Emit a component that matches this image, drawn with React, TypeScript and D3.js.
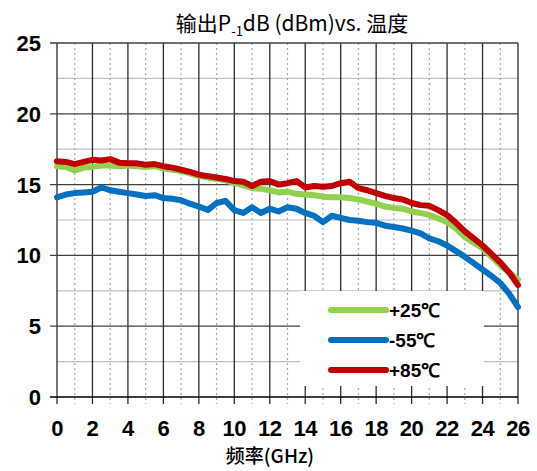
import React from 'react';
import * as d3 from 'd3';

// 频率 (GHz), 0.5 GHz 步进
const freqs: number[] = d3.range(0, 26.01, 0.5);

const p25: number[] = [
  16.3, 16.25, 16.0, 16.2, 16.25, 16.35, 16.35, 16.3, 16.35, 16.3,
  16.25, 16.3, 16.15, 16.05, 15.95, 15.8, 15.6, 15.5, 15.4, 15.3,
  15.1, 14.95, 14.75, 14.7, 14.6, 14.45, 14.5, 14.35, 14.3, 14.25,
  14.15, 14.1, 14.1, 14.05, 13.95, 13.8, 13.65, 13.45, 13.35, 13.3,
  13.1, 13.0, 12.85, 12.6, 12.35, 11.9, 11.3, 10.9, 10.5, 9.9,
  9.3, 8.8, 8.3,
];

const m55: number[] = [
  14.1, 14.3, 14.4, 14.45, 14.5, 14.8, 14.6, 14.5, 14.4, 14.3,
  14.2, 14.25, 14.05, 14.0, 13.9, 13.65, 13.45, 13.2, 13.7, 13.85,
  13.2, 13.0, 13.4, 13.0, 13.3, 13.1, 13.4, 13.3, 13.0, 12.8,
  12.35, 12.8, 12.65, 12.5, 12.45, 12.35, 12.3, 12.1, 12.0, 11.9,
  11.75, 11.55, 11.2, 11.0, 10.7, 10.3, 9.9, 9.45, 9.0, 8.55,
  8.05, 7.3, 6.35,
];

const p85: number[] = [
  16.65, 16.6, 16.45, 16.6, 16.75, 16.7, 16.8, 16.55, 16.5, 16.5,
  16.4, 16.45, 16.3, 16.2, 16.05, 15.9, 15.7, 15.6, 15.5, 15.4,
  15.25, 15.2, 14.9, 15.2, 15.25, 15.0, 15.1, 15.25, 14.8, 14.9,
  14.85, 14.9, 15.1, 15.2, 14.75, 14.6, 14.4, 14.2, 14.05, 13.95,
  13.7, 13.55, 13.5, 13.2, 12.85, 12.3, 11.7, 11.2, 10.7, 10.1,
  9.5, 8.8, 7.9,
];

const series = [
  { name: '+25℃', color: '#92d050', values: p25 },
  { name: '-55℃', color: '#0070c0', values: m55 },
  { name: '+85℃', color: '#c00000', values: p85 },
];

const xTicks: number[] = d3.range(0, 27, 2);
const xMinor: number[] = d3.range(1, 26, 2);
const yTicks: number[] = [0, 5, 10, 15, 20, 25];
const yMinor: number[] = [2.5, 7.5, 12.5, 17.5, 22.5];

export default function App() {
  const W = 537, H = 471;
  const left = 57, right = 518, top = 43, bottom = 397;

  const x = d3.scaleLinear().domain([0, 26]).range([left, right]);
  const y = d3.scaleLinear().domain([0, 25]).range([bottom, top]);

  const line = d3.line<number>()
    .x((_, i) => x(freqs[i]))
    .y(d => y(d));

  const lg = { x0: 300, y0: 291, x1: 484, y1: 386 };
  const arial = "'Liberation Sans', Arial, sans-serif";
  const cjk = "'Noto Sans CJK SC', 'Noto Sans', sans-serif";

  return (
    <svg width={W} height={H} style={{ position: 'absolute', left: 0, top: 0, background: '#fff' }}>
      {/* 次网格 */}
      {yMinor.map(v => (
        <line key={'ym' + v} x1={left} x2={right} y1={y(v)} y2={y(v)} stroke="#bfbfbf" strokeWidth={1.2} />
      ))}
      {xMinor.map(v => (
        <line key={'xm' + v} x1={x(v)} x2={x(v)} y1={top} y2={bottom + 7} stroke="#a6a6a6" strokeWidth={1.2} strokeDasharray="2,3" />
      ))}
      {/* 主网格 */}
      {xTicks.map(v => (
        <line key={'xg' + v} x1={x(v)} x2={x(v)} y1={top} y2={bottom + 7} stroke="#2b2b2b" strokeWidth={1.3} />
      ))}
      {yTicks.map(v => (
        <line key={'yg' + v} x1={left - 7} x2={right} y1={y(v)} y2={y(v)} stroke={v === 0 ? '#000' : '#404040'} strokeWidth={1.3} />
      ))}

      {/* 图例底 */}
      <rect x={lg.x0} y={lg.y0} width={lg.x1 - lg.x0} height={lg.y1 - lg.y0} fill="#fff" />

      {/* 曲线 */}
      {series.map(s => (
        <path key={s.name} d={line(s.values) || ''} fill="none" stroke={s.color} strokeWidth={6}
          strokeLinejoin="round" strokeLinecap="round" />
      ))}

      {/* 图例 */}
      {series.map((s, i) => (
        <g key={'lg' + s.name} transform={`translate(0,${310 + i * 30})`}>
          <line x1={331} x2={386} y1={0} y2={0} stroke={s.color} strokeWidth={6} strokeLinecap="round" />
          <text x={389} y={7} fontFamily={arial} fontWeight="bold" fontSize={19} fill="#000">{s.name}</text>
        </g>
      ))}

      {/* 刻度标签 */}
      {yTicks.map(v => (
        <text key={'yl' + v} x={41} y={y(v) + 8} textAnchor="end" fontFamily={arial}
          fontWeight="bold" fontSize={22} fill="#000">{v}</text>
      ))}
      {xTicks.map(v => (
        <text key={'xl' + v} x={x(v)} y={436} textAnchor="middle" fontFamily={arial}
          fontWeight="bold" fontSize={22} letterSpacing={-0.5} fill="#000">{v}</text>
      ))}

      {/* 标题 */}
      <text x={292} y={31} textAnchor="middle" fontFamily={cjk} fontSize={21} fill="#000">
        输出P<tspan fontSize={13} dy={5}>-1</tspan><tspan dy={-5}>dB (dBm)vs. 温度</tspan>
      </text>
      <text x={270} y={463} textAnchor="middle" fontFamily={cjk} fontSize={19} fontWeight="500" fill="#000">
        频率(GHz)
      </text>
    </svg>
  );
}
